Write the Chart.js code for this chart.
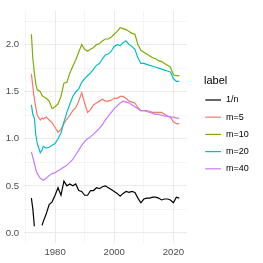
<!DOCTYPE html>
<html>
<head>
<meta charset="utf-8">
<script src="https://cdn.jsdelivr.net/npm/chart.js@4/dist/chart.umd.min.js"></script>
<style>
  html, body { margin: 0; padding: 0; background: #fff; }
  canvas { display: block; }
</style>
</head>
<body>
<canvas id="chart" width="263" height="263"></canvas>
<script>
// data
const years = [1972, 1972.5, 1973, 1973.5, 1974, 1975, 1975.6, 1976, 1977, 1978, 1979,
    1980, 1981, 1982, 1983, 1984, 1985, 1986, 1987, 1988, 1989, 1990, 1991, 1992, 1993,
    1994, 1995, 1996, 1997, 1998, 1999, 2000, 2001, 2002, 2003, 2004, 2005, 2006, 2007,
    2008, 2009, 2010, 2011, 2012, 2013, 2014, 2015, 2016, 2017, 2018, 2019, 2020, 2021, 2022];

const inv_n = [0.37, 0.25, 0.07, null, null, null, 0.08, 0.12, 0.20, 0.30, 0.33,
    0.40, 0.48, 0.40, 0.55, 0.50, 0.52, 0.50, 0.52, 0.45, 0.44, 0.40, 0.40, 0.45, 0.45,
    0.48, 0.47, 0.49, 0.50, 0.48, 0.46, 0.44, 0.42, 0.39, 0.42, 0.44, 0.43, 0.44, 0.43,
    0.37, 0.32, 0.36, 0.37, 0.37, 0.38, 0.38, 0.37, 0.35, 0.36, 0.36, 0.35, 0.32, 0.38, 0.37];

const m5 = [1.69, 1.55, 1.42, 1.33, 1.25, 1.20, 1.22, 1.21, 1.23, 1.20, 1.17,
    1.12, 1.07, 1.10, 1.16, 1.21, 1.25, 1.30, 1.33, 1.40, 1.49, 1.38, 1.28, 1.31, 1.36,
    1.38, 1.40, 1.42, 1.40, 1.40, 1.41, 1.43, 1.43, 1.45, 1.45, 1.43, 1.40, 1.39, 1.38,
    1.33, 1.30, 1.30, 1.30, 1.29, 1.28, 1.28, 1.28, 1.28, 1.26, 1.24, 1.23, 1.18, 1.16, 1.16];

const m10 = [2.11, 1.85, 1.70, 1.58, 1.52, 1.50, 1.46, 1.45, 1.43, 1.40, 1.32,
    1.34, 1.37, 1.45, 1.59, 1.60, 1.70, 1.77, 1.84, 1.92, 2.00, 1.95, 1.93, 1.95, 1.97,
    2.00, 2.01, 2.04, 2.06, 2.06, 2.08, 2.11, 2.14, 2.18, 2.17, 2.16, 2.14, 2.12, 2.11,
    2.00, 1.94, 1.92, 1.90, 1.88, 1.86, 1.85, 1.83, 1.82, 1.80, 1.78, 1.76, 1.68, 1.67, 1.67];

const m20 = [1.36, 1.26, 1.22, 1.04, 0.95, 0.85, 0.88, 0.92, 0.90, 0.91, 0.93,
    0.95, 1.00, 1.06, 1.18, 1.28, 1.37, 1.45, 1.50, 1.53, 1.60, 1.64, 1.67, 1.70, 1.74,
    1.78, 1.80, 1.85, 1.89, 1.90, 1.93, 1.98, 2.00, 1.99, 2.02, 2.04, 2.00, 1.98, 1.95,
    1.86, 1.80, 1.80, 1.79, 1.78, 1.77, 1.76, 1.75, 1.74, 1.73, 1.72, 1.71, 1.64, 1.61, 1.61];

const m40 = [0.86, 0.80, 0.74, 0.67, 0.63, 0.58, 0.57, 0.56, 0.58, 0.61, 0.63,
    0.64, 0.66, 0.68, 0.70, 0.72, 0.75, 0.78, 0.83, 0.88, 0.93, 0.97, 1.00, 1.02, 1.05,
    1.08, 1.11, 1.15, 1.20, 1.24, 1.28, 1.32, 1.35, 1.38, 1.40, 1.39, 1.38, 1.36, 1.34,
    1.32, 1.30, 1.30, 1.29, 1.28, 1.27, 1.26, 1.26, 1.25, 1.24, 1.24, 1.23, 1.23, 1.22, 1.22];

const labels = ['1/n', 'm=5', 'm=10', 'm=20', 'm=40'];
const colors = ['#000000', '#F8766D', '#7CAE00', '#00BFC4', '#C77CFF'];
const xTicks = [1970, 1980, 1990, 2000, 2010, 2020];
const yTicks = [0, 0.25, 0.5, 0.75, 1, 1.25, 1.5, 1.75, 2, 2.25];

const FONT = "'Liberation Sans', Arial, sans-serif";

function toPoints(vals) {
    return years.map((y, i) => ({ x: y, y: vals[i] }));
}

const series = [inv_n, m5, m10, m20, m40];
const datasets = series.map((vals, i) => ({
    label: labels[i],
    data: toPoints(vals),
    borderColor: colors[i],
    backgroundColor: colors[i],
    borderWidth: 1.2,
    pointRadius: 0,
    tension: 0,
    spanGaps: false,
    order: series.length - i   // later series on top, like ggplot
}));

// legend in ggplot style, drawn on the right
const ggLegend = {
    id: 'ggLegend',
    afterDraw(chart) {
        const ctx = chart.ctx;
        ctx.save();
        ctx.fillStyle = '#000';
        ctx.font = `11px ${FONT}`;
        ctx.textAlign = 'left';
        ctx.textBaseline = 'alphabetic';
        ctx.fillText('label', 204, 83.5);

        ctx.font = `9px ${FONT}`;
        ctx.textBaseline = 'middle';
        chart.data.datasets.forEach((ds, i) => {
            const y = 100 + i * 17.2;
            ctx.strokeStyle = ds.borderColor;
            ctx.lineWidth = 1.2;
            ctx.beginPath();
            ctx.moveTo(205.3, y);
            ctx.lineTo(221, y);
            ctx.stroke();
            ctx.fillStyle = '#000';
            ctx.fillText(ds.label, 226, y);
        });
        ctx.restore();
    }
};

const config = {
    type: 'line',
    data: { datasets: datasets },
    options: {
        responsive: false,
        animation: false,
        devicePixelRatio: 1,
        layout: {
            padding: { top: 6, right: 76.3, left: 0, bottom: 0 }
        },
        plugins: {
            legend: { display: false },
            tooltip: { enabled: false }
        },
        scales: {
            x: {
                type: 'linear',
                min: 1969.5,
                max: 2024.5,
                afterBuildTicks: (scale) => {
                    scale.ticks = xTicks.map(v => ({ value: v }));
                },
                afterFit: (scale) => { scale.height = 20.3; },
                border: { display: false },
                grid: {
                    drawTicks: false,
                    color: '#EBEBEB',
                    lineWidth: (c) => (c.tick && c.tick.value % 20 === 0) ? 1 : 0.5
                },
                ticks: {
                    autoSkip: false,
                    maxRotation: 0,
                    padding: 4,
                    color: '#4D4D4D',
                    font: { family: FONT, size: 9.6 },
                    callback: (v) => (v % 20 === 0) ? String(v) : ''
                }
            },
            y: {
                type: 'linear',
                min: -0.104,
                max: 2.36,
                afterBuildTicks: (scale) => {
                    scale.ticks = yTicks.map(v => ({ value: v }));
                },
                afterFit: (scale) => { scale.width = 24; },
                border: { display: false },
                grid: {
                    drawTicks: false,
                    color: '#EBEBEB',
                    lineWidth: (c) => (c.tick && Math.abs(c.tick.value * 2 - Math.round(c.tick.value * 2)) < 1e-6) ? 1 : 0.5
                },
                ticks: {
                    padding: 5,
                    color: '#4D4D4D',
                    font: { family: FONT, size: 9.6 },
                    callback: (v) => (Math.abs(v * 2 - Math.round(v * 2)) < 1e-6) ? v.toFixed(1) : ''
                }
            }
        }
    },
    plugins: [ggLegend]
};

let ctx = document.getElementById('chart').getContext('2d');
var myChart = new Chart(ctx, config);
</script>
</body>
</html>
